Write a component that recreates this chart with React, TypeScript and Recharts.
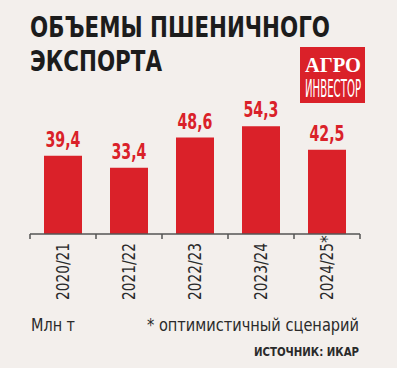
import React from 'react';
import { BarChart, Bar, XAxis, YAxis, LabelList } from 'recharts';

const seasons = ['2020/21', '2021/22', '2022/23', '2023/24', '2024/25*'];
const exportVolumes = [39.4, 33.4, 48.6, 54.3, 42.5];

const data = seasons.map((season, i) => ({ season, value: exportVolumes[i] }));

const RED = '#da2129';
const BG = '#f3efec';
const NARROW = "'Liberation Sans Narrow', 'DejaVu Sans Condensed', 'Arial Narrow', sans-serif";

const W = 397;
const H = 368;
const BAND = (360 - 30) / seasons.length;

const formatValue = (v: any) => String(v).replace('.', ',');

// boundary ticks between categories + rotated season label
const SeasonTick = (props: any) => {
    const { x, y, payload, index } = props;
    const last = index === seasons.length - 1;
    const label = String(payload.value);
    const base = label.replace('*', '');
    return (
        <g>
            <line x1={x - BAND / 2} y1={y} x2={x - BAND / 2} y2={y + 5} stroke="#555" strokeWidth={1.5} />
            {last && <line x1={x + BAND / 2} y1={y} x2={x + BAND / 2} y2={y + 5} stroke="#555" strokeWidth={1.5} />}
            <text
                transform={`translate(${x + 6}, ${y + 66}) rotate(-90)`}
                textAnchor="start"
                fill="#2a2a2a"
                fontSize={17}
                fontFamily={NARROW}
            >
                <tspan textLength={57} lengthAdjust="spacingAndGlyphs">{base}</tspan>
                {label !== base && <tspan>*</tspan>}
            </text>
        </g>
    );
};

const ValueLabel = (props: any) => {
    const { x, y, width, value } = props;
    return (
        <text
            x={x + width / 2}
            y={y - 9}
            textAnchor="middle"
            fill={RED}
            fontSize={21}
            fontWeight="bold"
            fontFamily={NARROW}
            textLength={35}
            lengthAdjust="spacingAndGlyphs"
        >
            {formatValue(value)}
        </text>
    );
};

export default function App() {
    return (
        <div style={{ position: 'relative', width: W, height: H, background: BG, overflow: 'hidden' }}>
            <style>{`body{margin:0}`}</style>
            <BarChart
                width={W}
                height={310}
                data={data}
                margin={{ top: 115, right: 37, left: 30, bottom: 6 }}
                style={{ position: 'absolute', left: 0, top: 0 }}
            >
                <YAxis hide domain={[0, 60]} />
                <XAxis
                    dataKey="season"
                    height={70}
                    interval={0}
                    tickSize={0}
                    tickMargin={0}
                    axisLine={{ stroke: '#555', strokeWidth: 1.5 }}
                    tick={<SeasonTick />}
                />
                <Bar dataKey="value" fill={RED} barSize={38} isAnimationActive={false}>
                    <LabelList dataKey="value" content={<ValueLabel />} />
                </Bar>
            </BarChart>
            <svg width={W} height={H} style={{ position: 'absolute', left: 0, top: 0, pointerEvents: 'none' }}>
                <text x={30} y={36.5} fontSize={28} fontWeight="bold" fill="#1c1c1c" fontFamily={NARROW}
                    textLength={300} lengthAdjust="spacingAndGlyphs">ОБЪЕМЫ ПШЕНИЧНОГО</text>
                <text x={30} y={70.5} fontSize={28} fontWeight="bold" fill="#1c1c1c" fontFamily={NARROW}
                    textLength={132} lengthAdjust="spacingAndGlyphs">ЭКСПОРТА</text>

                <rect x={300} y={47} width={65} height={56} fill={RED} />
                <text x={305} y={72} fontSize={22} fontWeight="bold" fill="#fff"
                    fontFamily="'Liberation Serif', 'DejaVu Serif', serif"
                    textLength={56} lengthAdjust="spacingAndGlyphs">АГРО</text>
                <text x={305} y={97} fontSize={25} fill="#fff" fontFamily={NARROW}
                    textLength={56} lengthAdjust="spacingAndGlyphs">ИНВЕСТОР</text>

                <text x={31} y={331} fontSize={18} fill="#2a2a2a" fontFamily={NARROW}
                    textLength={44} lengthAdjust="spacingAndGlyphs">Млн т</text>
                <text x={147} y={331} fontSize={18} fill="#2a2a2a" fontFamily={NARROW}
                    textLength={212} lengthAdjust="spacingAndGlyphs">* оптимистичный сценарий</text>
                <text x={254} y={356} fontSize={13} fontWeight="bold" fill="#2a2a2a" fontFamily={NARROW}
                    textLength={105} lengthAdjust="spacingAndGlyphs">ИСТОЧНИК: ИКАР</text>
            </svg>
        </div>
    );
}
